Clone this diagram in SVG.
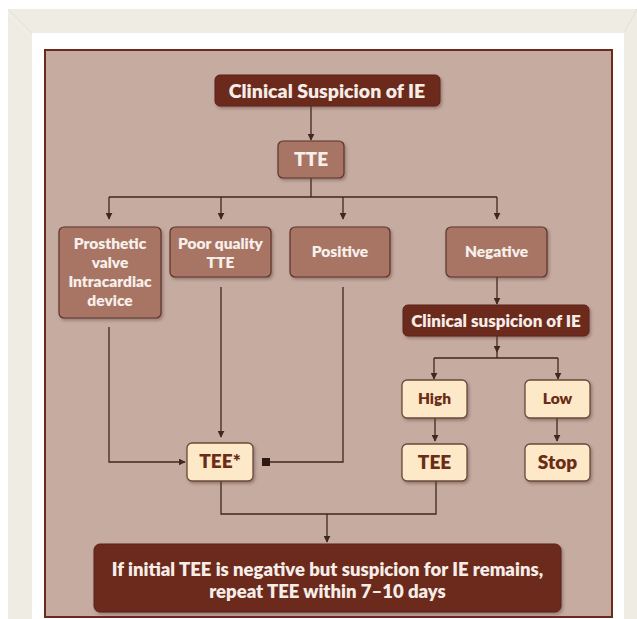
<svg xmlns="http://www.w3.org/2000/svg" width="637" height="619" viewBox="0 0 637 619">
<defs>
<style>
.t{font-family:Lato,"Open Sans","Liberation Sans",sans-serif;font-weight:800;text-anchor:middle}
.dark rect{fill:#6c2a1e;stroke:#5a2016;stroke-width:1}
.dark text{fill:#f6ede8}
.mid rect{fill:#a87565;stroke:#5a3428;stroke-width:1.2}
.mid text{fill:#f7efea}
.lite rect{fill:#fde8c8;stroke:#6a4a3a;stroke-width:1.3}
.lite text{fill:#6a2c16}
.ln{fill:none;stroke:#3f2820;stroke-width:1.3}
</style>
<filter id="sh" x="-10%" y="-10%" width="130%" height="140%">
<feDropShadow dx="1.5" dy="2" stdDeviation="1.5" flood-color="#5a3a30" flood-opacity="0.45"/>
</filter>
<marker id="ar" viewBox="0 0 10 10" refX="9" refY="5" markerWidth="7" markerHeight="7" orient="auto" markerUnits="userSpaceOnUse">
<path d="M0,0 L10,5 L0,10 z" fill="#3f2820"/>
</marker>
<marker id="sq" viewBox="0 0 10 10" refX="5" refY="5" markerWidth="8" markerHeight="8" orient="auto" markerUnits="userSpaceOnUse">
<rect x="0" y="0" width="10" height="10" fill="#2e1a14"/>
</marker>
</defs>
<rect x="0" y="0" width="637" height="619" fill="#ffffff"/>
<rect x="8" y="9" width="629" height="610" fill="#efede3"/>
<path d="M8,9 L32,33 M637,9 L624,33" stroke="#e2e0d4" stroke-width="1"/>
<rect x="32" y="33" width="592" height="586" fill="#ffffff"/>
<rect x="45" y="50" width="567" height="567" fill="#c6aba1" stroke="#6b2a1c" stroke-width="2"/>

<g id="connectors">
<path class="ln" d="M311,106 V140" marker-end="url(#ar)"/>
<path class="ln" d="M311,178 V197 M109,197 H497"/>
<path class="ln" d="M109,197 V219" marker-end="url(#ar)"/>
<path class="ln" d="M221,197 V219" marker-end="url(#ar)"/>
<path class="ln" d="M343,197 V219" marker-end="url(#ar)"/>
<path class="ln" d="M497,197 V219" marker-end="url(#ar)"/>
<path class="ln" d="M109,327 V462 H185" marker-end="url(#ar)"/>
<path class="ln" d="M221,287 V437" marker-end="url(#ar)"/>
<path class="ln" d="M343,287 V462 H266" marker-end="url(#sq)"/>
<path class="ln" d="M497,277 V304" marker-end="url(#ar)"/>
<path class="ln" d="M497,336 V352" marker-end="url(#ar)"/>
<path class="ln" d="M497,352 V358 M434,358 H558"/>
<path class="ln" d="M434,358 V379" marker-end="url(#ar)"/>
<path class="ln" d="M558,358 V379" marker-end="url(#ar)"/>
<path class="ln" d="M435,418 V441" marker-end="url(#ar)"/>
<path class="ln" d="M557,418 V441" marker-end="url(#ar)"/>
<path class="ln" d="M221,481 V514 H436 V481"/>
<path class="ln" d="M327,514 V542" marker-end="url(#ar)"/>
</g>

<g id="n-start" class="dark"><rect x="215" y="75" width="225" height="31" rx="5" filter="url(#sh)"/><text class="t" x="327" y="97.5" font-size="19.5">Clinical Suspicion of IE</text></g>
<g id="n-tte" class="mid"><rect x="278" y="141" width="66" height="37" rx="5" filter="url(#sh)"/><text class="t" x="311" y="166" font-size="19">TTE</text></g>
<g id="n-prosthetic" class="mid"><rect x="59" y="227" width="102" height="91" rx="5" filter="url(#sh)"/><text class="t" font-size="15.5"><tspan x="110" y="249">Prosthetic</tspan><tspan x="110" y="268">valve</tspan><tspan x="110" y="287">Intracardiac</tspan><tspan x="110" y="306">device</tspan></text></g>
<g id="n-poor" class="mid"><rect x="170" y="227" width="101" height="50" rx="5" filter="url(#sh)"/><text class="t" font-size="15.5"><tspan x="220.5" y="249">Poor quality</tspan><tspan x="220.5" y="268">TTE</tspan></text></g>
<g id="n-positive" class="mid"><rect x="290" y="227" width="100" height="50" rx="5" filter="url(#sh)"/><text class="t" x="340" y="257" font-size="15.5">Positive</text></g>
<g id="n-negative" class="mid"><rect x="446" y="227" width="101" height="50" rx="5" filter="url(#sh)"/><text class="t" x="496.5" y="257" font-size="15.5">Negative</text></g>
<g id="n-clin2" class="dark"><rect x="403" y="305" width="186" height="31" rx="5" filter="url(#sh)"/><text class="t" x="496" y="326.5" font-size="17">Clinical suspicion of IE</text></g>
<g id="n-high" class="lite"><rect x="402" y="380" width="65" height="38" rx="5" filter="url(#sh)"/><text class="t" x="434.5" y="404" font-size="15.5">High</text></g>
<g id="n-low" class="lite"><rect x="525" y="380" width="65" height="38" rx="5" filter="url(#sh)"/><text class="t" x="557.5" y="404" font-size="15.5">Low</text></g>
<g id="n-tee" class="lite"><rect x="402" y="444" width="65" height="37" rx="5" filter="url(#sh)"/><text class="t" x="434.5" y="469" font-size="19">TEE</text></g>
<g id="n-stop" class="lite"><rect x="525" y="444" width="65" height="37" rx="5" filter="url(#sh)"/><text class="t" x="557.5" y="469" font-size="19">Stop</text></g>
<g id="n-teestar" class="lite"><rect x="187" y="443" width="66" height="38" rx="5" filter="url(#sh)"/><text class="t" x="220" y="468" font-size="19">TEE*</text></g>
<g id="n-final" class="dark"><rect x="94" y="544" width="467" height="68" rx="6" filter="url(#sh)"/><text class="t" font-size="18.5"><tspan x="327.5" y="575.5">If initial TEE is negative but suspicion for IE remains,</tspan><tspan x="327.5" y="598">repeat TEE within 7–10 days</tspan></text></g>
</svg>
